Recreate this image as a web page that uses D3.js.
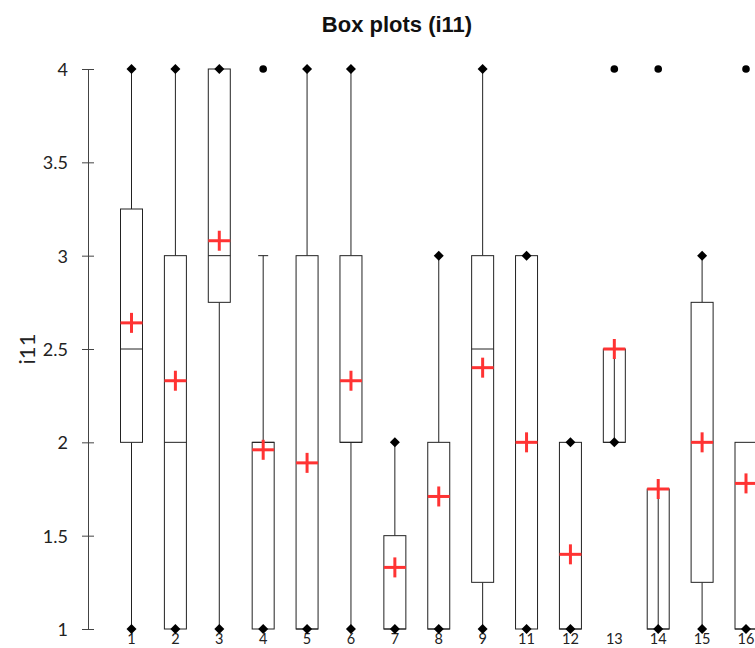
<!DOCTYPE html>
<html><head><meta charset="utf-8">
<script src="https://cdn.jsdelivr.net/npm/d3@7/dist/d3.min.js"></script>
<style>body{margin:0;background:#fff;overflow:hidden}</style>
</head><body><svg id="c" width="755" height="648"></svg>
<script>
const categories = ["1","2","3","4","5","6","7","8","9","11","12","13","14","15","16"];
const whiskerLow  = [1,1,1,1,1,1,1,1,1,1,1,2,1,1,1];
const q1          = [2,1,2.75,1,1,2,1,1,1.25,1,1,2,1,1.25,1];
const medians     = [2.5,2,3,2,1,2,1,1,2.5,2,1,2,1,2,1];
const q3          = [3.25,3,4,2,3,3,1.5,2,3,3,2,2.5,1.75,2.75,2];
const whiskerHigh = [4,4,4,3,4,4,2,3,4,3,2,2.5,1.75,3,2];
const maxPoint    = [4,4,4,null,4,4,2,3,4,3,2,null,null,3,null];
const minPoint    = [1,1,1,1,1,1,1,1,1,1,1,2,1,1,1];
const means       = [2.64,2.33,3.08,1.96,1.89,2.33,1.33,1.71,2.40,2.0,1.40,2.5,1.75,2.0,1.78];
const outliers    = [[],[],[],[4],[],[],[],[],[],[],[],[4],[4],[],[4]];
const innerWhisker= [false,false,false,false,false,false,false,false,false,false,false,true,true,false,false];
const yTicks = [1,1.5,2,2.5,3,3.5,4];

const svg = d3.select("#c");
const x = d3.scalePoint().domain(categories).range([131.5, 746]);
const y = d3.scaleLinear().domain([1,4]).range([629, 69]);
const bw = 22;

svg.append("text").attr("x",397).attr("y",32).attr("text-anchor","middle")
  .attr("font-family","Liberation Sans, Arial, sans-serif").attr("font-weight","bold")
  .attr("font-size",22).attr("fill","#111").text("Box plots (i11)");
svg.append("text").attr("transform","translate(35,349) rotate(-90)").attr("text-anchor","middle")
  .attr("font-family","Lato, sans-serif").attr("font-size",22).attr("fill","#222").text("i11");

const yAxis = d3.axisLeft(y).tickValues(yTicks).tickSize(6).tickSizeOuter(0).tickFormat(d3.format("~g"));
const ga = svg.append("g").attr("transform","translate(88,0)").call(yAxis);
ga.select(".domain").attr("stroke","#444");
ga.selectAll(".tick line").attr("x1",-6).attr("x2",6).attr("stroke","#444");
ga.selectAll(".tick text").attr("x",-20).attr("font-family","Lato, sans-serif").attr("font-size",18).attr("fill","#222").attr("dy","0.36em");

svg.append("g").selectAll("text").data(categories).join("text")
  .attr("x",d=>x(d)).attr("y",644).attr("text-anchor","middle")
  .attr("font-family","Lato, sans-serif").attr("font-size",14.5).attr("fill","#222").text(d=>d);

const g = svg.append("g");
categories.forEach((c,i)=>{
  const cx = x(c);
  const stroke = "#222";
  g.append("line").attr("x1",cx).attr("x2",cx).attr("y1",y(whiskerLow[i])).attr("y2",y(q1[i])).attr("stroke",stroke);
  g.append("line").attr("x1",cx).attr("x2",cx).attr("y1",y(q3[i])).attr("y2",y(whiskerHigh[i])).attr("stroke",stroke);
  if (maxPoint[i]===null && whiskerHigh[i]>q3[i]) {
    g.append("line").attr("x1",cx-5).attr("x2",cx+5).attr("y1",y(whiskerHigh[i])).attr("y2",y(whiskerHigh[i])).attr("stroke",stroke);
  }
  g.append("rect").attr("x",cx-bw/2).attr("y",y(q3[i])).attr("width",bw).attr("height",y(q1[i])-y(q3[i]))
    .attr("fill","#fff").attr("stroke",stroke).attr("stroke-width",1);
  if (innerWhisker[i]) {
    g.append("line").attr("x1",cx).attr("x2",cx).attr("y1",y(q1[i])).attr("y2",y(q3[i])).attr("stroke",stroke);
  }
  g.append("line").attr("x1",cx-bw/2).attr("x2",cx+bw/2).attr("y1",y(medians[i])).attr("y2",y(medians[i])).attr("stroke",stroke);
  const diamond = v => g.append("path").attr("d",`M${cx},${y(v)-5}L${cx+5},${y(v)}L${cx},${y(v)+5}L${cx-5},${y(v)}Z`).attr("fill","#000");
  diamond(minPoint[i]);
  if (maxPoint[i]!==null) diamond(maxPoint[i]);
  outliers[i].forEach(v=>g.append("circle").attr("cx",cx).attr("cy",y(v)).attr("r",3.8).attr("fill","#000"));
  const my = y(means[i]);
  g.append("line").attr("x1",cx-11).attr("x2",cx+11).attr("y1",my).attr("y2",my).attr("stroke","#ff3333").attr("stroke-width",3);
  g.append("line").attr("x1",cx).attr("x2",cx).attr("y1",my-10).attr("y2",my+10).attr("stroke","#ff3333").attr("stroke-width",3);
});
</script></body></html>
